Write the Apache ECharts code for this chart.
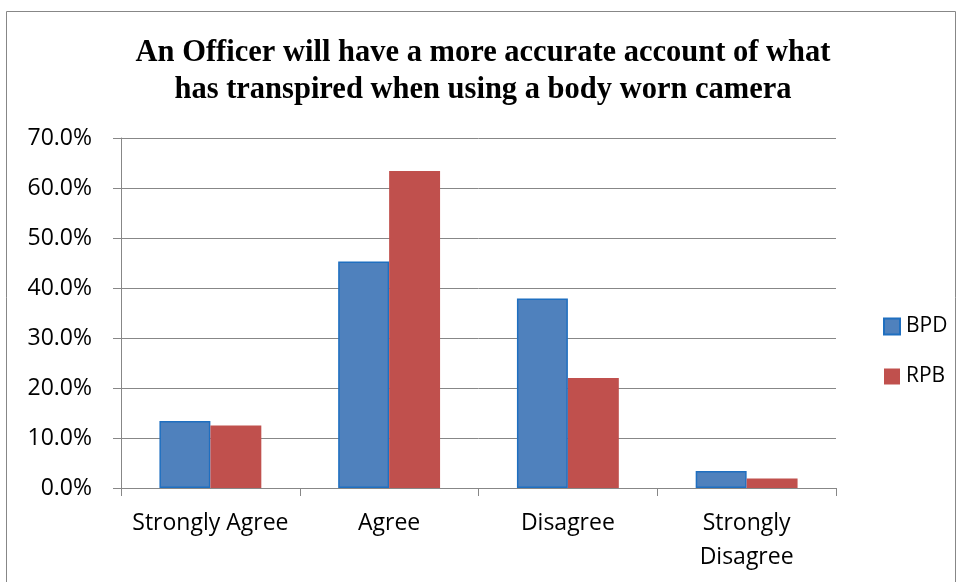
<!DOCTYPE html>
<html>
<head>
<meta charset="utf-8">
<script src="https://cdn.jsdelivr.net/npm/echarts@6/dist/echarts.min.js"></script>
<style>
  html, body { margin: 0; padding: 0; background: #fff; }
  #chart { width: 957px; height: 582px; }
</style>
</head>
<body>
<div id="chart"></div>
<script>
// Survey responses, share of respondents (%)
const categories = ['Strongly Agree', 'Agree', 'Disagree', 'Strongly\nDisagree'];
const bpdValues = [13.4, 45.3, 37.9, 3.4];
const rpbValues = [12.5, 63.4, 22.0, 1.9];
const yTicks = { min: 0, max: 70, interval: 10 };

const chart = echarts.init(document.getElementById('chart'));
const labelFont = '"Open Sans", "Noto Sans", sans-serif';
const gray = '#878787';

chart.setOption({
  animation: false,
  title: {
    text: 'An Officer will have a more accurate account of what\nhas transpired when using a body worn camera',
    left: 478,
    textAlign: 'center',
    top: 30,
    textStyle: {
      fontFamily: '"Liberation Serif", "Times New Roman", serif',
      fontWeight: 'bold',
      fontSize: 30.5,
      lineHeight: 37,
      color: '#000'
    }
  },
  graphic: [{
    type: 'rect',
    shape: { x: 6.5, y: 11.5, width: 949, height: 580 },
    style: { fill: 'none', stroke: gray, lineWidth: 1 },
    silent: true,
    z: -1
  }],
  legend: {
    orient: 'vertical',
    left: 878,
    top: 311,
    icon: 'rect',
    itemWidth: 16,
    itemHeight: 16,
    itemGap: 29,
    textStyle: { fontFamily: labelFont, fontSize: 21, color: '#000', padding: [0, 0, 0, 1] },
    data: ['BPD', 'RPB']
  },
  grid: { left: 121, right: 121, top: 138, bottom: 94, containLabel: false },
  xAxis: {
    type: 'category',
    data: categories,
    boundaryGap: true,
    axisLine: { lineStyle: { color: gray, width: 1 } },
    axisTick: { show: true, length: 8, lineStyle: { color: gray } },
    axisLabel: {
      interval: 0,
      margin: 18,
      fontFamily: labelFont,
      fontSize: 23,
      lineHeight: 34,
      color: '#000'
    }
  },
  yAxis: {
    type: 'value',
    min: yTicks.min,
    max: yTicks.max,
    interval: yTicks.interval,
    axisLine: { show: true, lineStyle: { color: gray, width: 1 } },
    axisTick: { show: true, length: 8, inside: false, lineStyle: { color: gray } },
    splitLine: { show: true, lineStyle: { color: gray, width: 1 } },
    axisLabel: {
      margin: 29,
      fontFamily: labelFont,
      fontSize: 23,
      color: '#000',
      formatter: v => v.toFixed(1) + '%'
    }
  },
  series: [
    {
      name: 'BPD',
      type: 'bar',
      data: bpdValues,
      barGap: '0%',
      barCategoryGap: '43%',
      itemStyle: { color: '#4f81bd', borderColor: '#1f6fc0', borderWidth: 1.5 }
    },
    {
      name: 'RPB',
      type: 'bar',
      data: rpbValues,
      itemStyle: { color: '#c0504d' }
    }
  ]
});
</script>
</body>
</html>
